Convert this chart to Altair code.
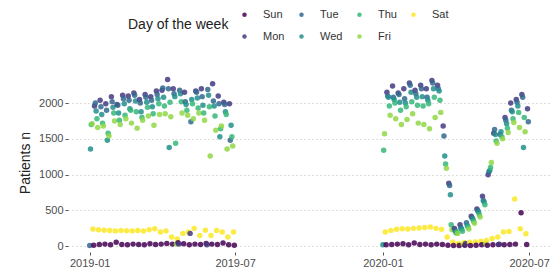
import altair as alt
import pandas as pd

DAY_ORDER = ["Sun", "Mon", "Tue", "Wed", "Thu", "Fri", "Sat"]
DAY_COLORS = ["#440154", "#443A83", "#31688E", "#21908C", "#35B779", "#8FD744", "#FDE725"]

PERIOD_2019 = ("2019-01-01", "2019-06-30")
PERIOD_2020 = ("2020-01-01", "2020-06-30")

# ---- 2019: one value per week for each weekday (in date order) ----
sun_2019 = [15, 25, 30, 20, 55, 25, 20, 30, 25, 20, 35, 25, 30, 40, 30, 50, 35, 20, 30, 25, 40, 30, 25, 45, 20, 15]
mon_2019 = [1960, 2040, 1990, 2090, 1980, 2110, 2100, 2140, 2050, 2120, 2090, 2170, 2180, 2330, 2200, 30, 2150, 180,
            2170, 2200, 20, 2270, 2100, 2010, 1990]
tue_2019 = [10, 2000, 1950, 1900, 2020, 1970, 2060, 2040, 2110, 2000, 2080, 2040, 2120, 2210, 2200, 2130, 2180, 2020,
            1740, 2150, 2090, 2190, 2030, 1990, 1980, 1480]
wed_2019 = [1360, 1890, 1840, 1480, 1940, 1860, 1990, 1920, 2030, 1880, 2010, 1950, 2060, 2080, 1380, 2090, 2130, 1980,
            2050, 2070, 1970, 2110, 1960, 1530, 1880, 1690]
thu_2019 = [1700, 1780, 1720, 1580, 1860, 1760, 1830, 1900, 1880, 1800, 1940, 1850, 1990, 1960, 2010, 1440, 2020, 1900,
            1990, 1930, 1860, 1950, 1820, 1640, 1840, 1530]
fri_2019 = [1710, 1660, 1680, 1540, 1750, 1700, 1780, 1720, 1650, 1760, 1820, 1690, 1840, 1850, 1810, 30, 1860, 1830,
            1780, 1860, 1760, 1260, 1620, 1680, 1360, 1400]
sat_2019 = [240, 230, 225, 220, 215, 222, 218, 215, 220, 212, 230, 245, 200, 215, 130, 100, 180, 200, 250, 150, 225,
            150, 222, 200, 130, 200]

# ---- 2020 ----
sun_2020 = [20, 25, 30, 35, 20, 45, 25, 30, 20, 30, 25, 15, 10, 10, 15, 10, 15, 20, 15, 20, 25, 20, 25, 30, 468, 25]
mon_2020 = [2150, 2240, 2140, 2200, 2280, 2180, 2250, 2200, 2315, 2250, 1680, 880, 250, 300, 40, 420, 520, 700, 1000,
            1580, 30, 1800, 2000, 2050, 2120, 1920]
tue_2020 = [2100, 2080, 2120, 2060, 2250, 2130, 2200, 2080, 2280, 2200, 1540, 850, 220, 260, 330, 400, 500, 640, 1040,
            1630, 1560, 1760, 1900, 2010, 2080, 1740]
wed_2020 = [20, 2080, 2050, 2010, 2000, 2150, 2080, 2090, 2040, 2200, 2170, 1260, 720, 190, 240, 290, 380, 480, 620,
            1060, 1560, 1600, 1710, 1880, 1960, 1380]
thu_2020 = [1340, 1960, 2000, 1900, 1950, 2020, 1970, 1960, 1990, 2080, 2040, 1150, 300, 200, 210, 270, 350, 440, 580,
            1100, 1470, 1530, 1650, 1780, 1870, 1800]
fri_2020 = [1570, 1830, 1780, 1700, 1770, 1850, 1720, 1700, 1640, 1800, 1870, 1090, 230, 180, 30, 240, 320, 410, 40,
            1170, 1440, 1500, 1590, 1730, 1660, 1600]
sat_2020 = [200, 222, 237, 245, 240, 250, 255, 262, 268, 250, 236, 130, 60, 40, 50, 55, 60, 70, 80, 110, 130, 200,
            208, 660, 245, 176]

SERIES_2019 = {"Sun": sun_2019, "Mon": mon_2019, "Tue": tue_2019, "Wed": wed_2019,
               "Thu": thu_2019, "Fri": fri_2019, "Sat": sat_2019}
SERIES_2020 = {"Sun": sun_2020, "Mon": mon_2020, "Tue": tue_2020, "Wed": wed_2020,
               "Thu": thu_2020, "Fri": fri_2020, "Sat": sat_2020}

X_TICKS = ["2019-01-01", "2019-07-01", "2020-01-01", "2020-07-01"]
Y_TICKS = [0, 500, 1000, 1500, 2000]


def build(period, series):
    dates = pd.date_range(period[0], period[1], freq="D")
    recs = []
    for day, vals in series.items():
        ds = [d for d in dates if d.strftime("%a") == day]
        if len(ds) != len(vals):
            raise ValueError(f"{period} {day}: {len(ds)} dates vs {len(vals)} values")
        recs += [{"date": d.strftime("%Y-%m-%d"), "day": day, "n": v} for d, v in zip(ds, vals)]
    return recs


df = pd.DataFrame(build(PERIOD_2019, SERIES_2019) + build(PERIOD_2020, SERIES_2020))
df = df.sort_values("date").reset_index(drop=True)


def dt(s):
    y, m, d = (int(p) for p in s.split("-"))
    return alt.DateTime(year=y, month=m, date=d, utc=True)


FONT = "Liberation Sans"

chart = alt.Chart(df).mark_circle(size=30, opacity=0.85).encode(
    x=alt.X(
        "date:T",
        scale=alt.Scale(type="utc", domain=[dt("2018-12-05"), dt("2020-07-27")]),
        axis=alt.Axis(values=[dt(s) for s in X_TICKS], format="%Y-%m", grid=False, domain=False,
                      tickColor="#555555", tickSize=3, labelFontSize=11, labelColor="#4d4d4d",
                      labelPadding=2, title=None, labelFont=FONT),
    ),
    y=alt.Y(
        "n:Q",
        scale=alt.Scale(domain=[-80, 2420], nice=False, zero=False),
        axis=alt.Axis(values=Y_TICKS, format="d", grid=True, gridDash=[1, 3], gridColor="#bdbdbd",
                      gridWidth=1.1, domain=False, tickColor="#555555", tickSize=3, labelFontSize=11,
                      labelColor="#4d4d4d", labelPadding=2, title="Patients n", titleFontSize=14,
                      titleFontWeight="normal", titleColor="#222222", titlePadding=6,
                      labelFont=FONT, titleFont=FONT),
    ),
    color=alt.Color(
        "day:N",
        scale=alt.Scale(domain=DAY_ORDER, range=DAY_COLORS),
        legend=alt.Legend(title="Day of the week", orient="none", legendX=60, legendY=-64,
                          columns=4, columnPadding=11, rowPadding=10, symbolType="circle",
                          symbolSize=20, labelOffset=13, labelFontSize=11, labelColor="#333333",
                          labelFont=FONT, titleFont=FONT, titleFontSize=14, titleFontWeight="normal",
                          titleColor="#222222", titleOrient="left", titleAnchor="middle",
                          titleBaseline="middle", titlePadding=10, padding=0),
    ),
).properties(
    width=482,
    height=179,
    autosize="none",
    padding={"left": 60, "top": 65, "right": 2, "bottom": 18},
    background="white",
).configure_view(stroke=None)

chart.save("out.html", embed_options={"renderer": "svg", "actions": False})
